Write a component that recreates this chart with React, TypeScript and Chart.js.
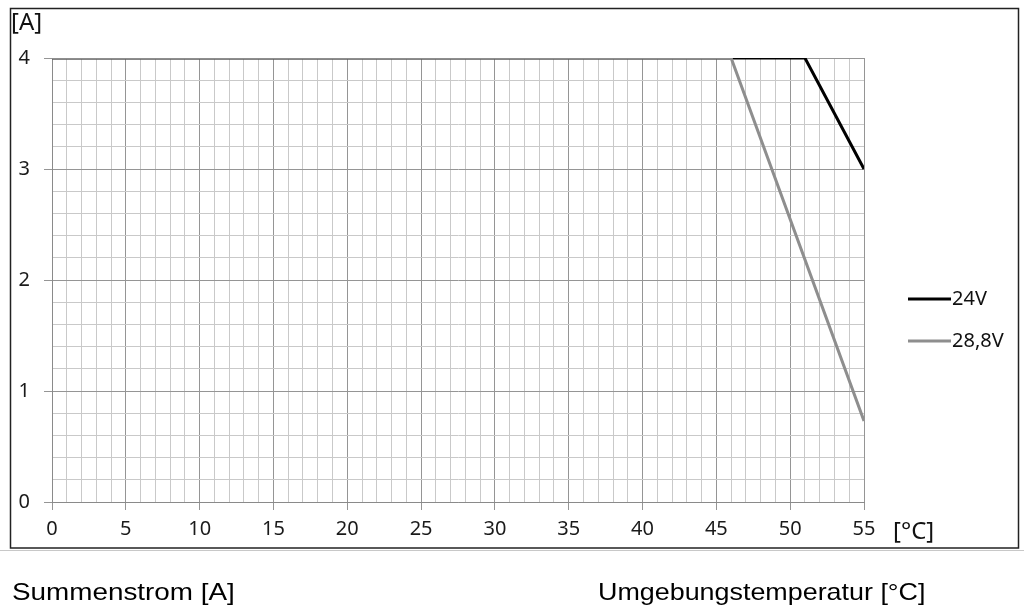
import React, { useEffect, useRef } from "react";
import { Chart, registerables } from "chart.js";

Chart.register(...registerables);

const temps24V = [0, 51, 55];
const current24V = [4, 4, 3];
const temps288V = [0, 46, 55];
const current288V = [4, 4, 0.73];
const seriesLabels = ["24V", "28,8V"];
const seriesColors = ["#000000", "#8e8e8e"];
const yAxisUnit = "[A]";
const xAxisUnit = "[°C]";
const captionLeft = "Summenstrom [A]";
const captionRight = "Umgebungstemperatur [°C]";

const MAJOR = "#959595";
const MINOR = "#c9c9c9";

const decorPlugin = {
  id: "decor",
  afterDraw(chart: any) {
    const ctx = chart.ctx as CanvasRenderingContext2D;
    const area = chart.chartArea;
    ctx.save();
    // outer frame
    ctx.strokeStyle = "#222";
    ctx.lineWidth = 1.5;
    ctx.strokeRect(10.5, 8.5, 1008, 539.5);
    ctx.strokeStyle = "#c8c8c8";
    ctx.lineWidth = 1;
    ctx.beginPath();
    ctx.moveTo(0, 550.5);
    ctx.lineTo(1024, 550.5);
    ctx.stroke();
    // axis units
    ctx.fillStyle = "#111";
    ctx.textBaseline = "middle";
    ctx.textAlign = "left";
    ctx.font = "24px 'Noto Sans'";
    ctx.fillText(yAxisUnit, 11, 23);
    ctx.fillText(xAxisUnit, 893, area.bottom + 30);
    // legend
    const legendY = [299, 341];
    chart.data.datasets.forEach((ds: any) => {
      const idx = seriesLabels.indexOf(ds.label);
      const y = legendY[idx];
      ctx.strokeStyle = ds.borderColor;
      ctx.lineWidth = 3;
      ctx.beginPath();
      ctx.moveTo(908, y);
      ctx.lineTo(951, y);
      ctx.stroke();
      ctx.fillStyle = "#111";
      ctx.font = "20px 'Noto Sans'";
      ctx.fillText(ds.label, 952, y);
    });
    // captions
    ctx.fillStyle = "#000";
    ctx.font = "24px 'Liberation Sans', Arial, sans-serif";
    ctx.textBaseline = "alphabetic";
    ctx.save();
    ctx.translate(12, 600);
    ctx.scale(1.16, 1);
    ctx.fillText(captionLeft, 0, 0);
    ctx.restore();
    ctx.save();
    ctx.translate(598, 600);
    ctx.scale(1.12, 1);
    ctx.fillText(captionRight, 0, 0);
    ctx.restore();
    ctx.restore();
  },
};

const isInt = (v: number) => Math.abs(v - Math.round(v)) < 1e-6;

export default function App() {
  const ref = useRef<HTMLCanvasElement | null>(null);
  useEffect(() => {
    if (!ref.current) return;
    const chart = new Chart(ref.current, {
      type: "line",
      data: {
        datasets: [
          {
            label: seriesLabels[1],
            data: temps288V.map((x, i) => ({ x, y: current288V[i] })),
            borderColor: seriesColors[1],
            backgroundColor: seriesColors[1],
            borderWidth: 3,
            pointRadius: 0,
            tension: 0,
            order: 0,
          },
          {
            label: seriesLabels[0],
            data: temps24V.map((x, i) => ({ x, y: current24V[i] })),
            borderColor: seriesColors[0],
            backgroundColor: seriesColors[0],
            borderWidth: 3,
            pointRadius: 0,
            tension: 0,
            order: 1,
          },
        ],
      },
      options: {
        animation: false,
        responsive: false,
        layout: { padding: { left: 0, top: 58, right: 160, bottom: 0 } },
        plugins: { legend: { display: false }, tooltip: { enabled: false } },
        scales: {
          x: {
            type: "linear",
            min: 0,
            max: 55,
            afterFit: (s: any) => {
              s.height = 106;
            },
            ticks: {
              stepSize: 1,
              autoSkip: false,
              maxRotation: 0,
              padding: 7,
              color: "#1a1a1a",
              font: { family: "'Noto Sans'", size: 20 },
              callback: (v: any) => (Number(v) % 5 === 0 ? String(v) : ""),
            },
            grid: {
              color: (c: any) => (c.tick && c.tick.value % 5 === 0 ? MAJOR : MINOR),
              tickColor: (c: any) => (c.tick && c.tick.value % 5 === 0 ? MAJOR : "rgba(0,0,0,0)"),
              tickLength: 8,
              lineWidth: 1,
            },
            border: { color: "#8a8a8a", width: 1 },
          },
          y: {
            type: "linear",
            min: 0,
            max: 4,
            afterFit: (s: any) => {
              s.width = 52;
            },
            ticks: {
              stepSize: 0.2,
              autoSkip: false,
              padding: 14,
              color: "#1a1a1a",
              font: { family: "'Noto Sans'", size: 20 },
              callback: (v: any) => (isInt(Number(v)) ? String(Math.round(Number(v))) : ""),
            },
            grid: {
              color: (c: any) => (c.tick && isInt(c.tick.value) ? MAJOR : MINOR),
              tickColor: (c: any) => (c.tick && isInt(c.tick.value) ? MAJOR : "rgba(0,0,0,0)"),
              tickLength: 8,
              lineWidth: 1,
            },
            border: { color: "#8a8a8a", width: 1 },
          },
        },
      },
      plugins: [decorPlugin],
    });
    return () => chart.destroy();
  }, []);
  return (
    <div style={{ position: "fixed", left: 0, top: 0, width: 1024, height: 608, background: "#fff" }}>
      <canvas ref={ref} width={1024} height={608} style={{ width: 1024, height: 608, display: "block" }} />
    </div>
  );
}
